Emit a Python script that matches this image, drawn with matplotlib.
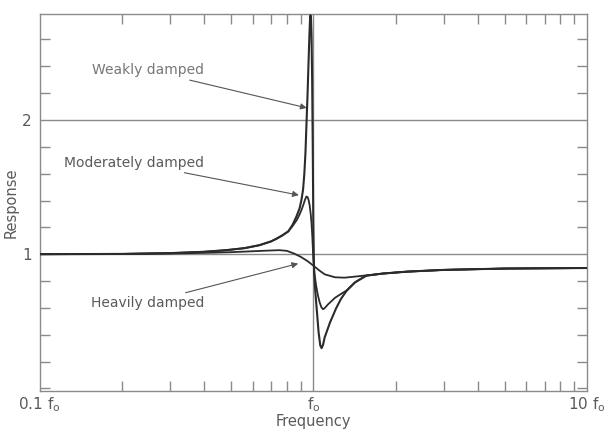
import numpy as np
import matplotlib
matplotlib.use("Agg")
import matplotlib.pyplot as plt
from matplotlib.ticker import FixedLocator, LogLocator, MultipleLocator, NullFormatter

# valeurs (f / f0, reponse)
weak_f = [0.10, 0.20, 0.30, 0.40, 0.48, 0.56, 0.635, 0.70, 0.733, 0.77, 0.81, 0.84, 0.867,
          0.89, 0.904, 0.917, 0.927, 0.936, 0.943, 0.952, 0.960, 0.967, 0.972, 0.976,
          0.980, 0.985, 0.990, 0.995, 1.000, 1.006, 1.015, 1.028, 1.045, 1.060, 1.072,
          1.085, 1.10, 1.15, 1.21, 1.26, 1.32, 1.42, 1.56, 1.8, 2.2, 3.0, 5.0, 10.0]
weak_r = [1.000, 1.002, 1.008, 1.018, 1.030, 1.045, 1.067, 1.095, 1.115, 1.140, 1.170, 1.220, 1.280,
          1.340, 1.400, 1.480, 1.600, 1.760, 1.950, 2.180, 2.420, 2.620, 2.740, 2.780,
          2.760, 2.620, 2.300, 1.800, 1.200, 0.880, 0.740, 0.600, 0.420, 0.320, 0.300,
          0.325, 0.380, 0.490, 0.595, 0.665, 0.725, 0.790, 0.840, 0.856, 0.870, 0.883, 0.893, 0.897]

mod_f = [0.10, 0.20, 0.30, 0.40, 0.48, 0.56, 0.635, 0.70, 0.733, 0.77, 0.81, 0.84, 0.87,
         0.89, 0.905, 0.92, 0.932, 0.943, 0.953, 0.962, 0.970, 0.978, 0.985, 0.992, 1.000,
         1.010, 1.025, 1.040, 1.055, 1.070, 1.085, 1.10, 1.13, 1.20, 1.26, 1.32, 1.42, 1.56,
         1.8, 2.2, 3.0, 5.0, 10.0]
mod_r = [1.000, 1.002, 1.008, 1.018, 1.030, 1.045, 1.067, 1.095, 1.115, 1.140, 1.170, 1.210, 1.255,
         1.295, 1.330, 1.370, 1.405, 1.430, 1.425, 1.400, 1.360, 1.300, 1.230, 1.120, 0.960,
         0.850, 0.760, 0.690, 0.640, 0.605, 0.590, 0.598, 0.625, 0.675, 0.703, 0.728, 0.790, 0.840,
         0.856, 0.870, 0.883, 0.893, 0.897]

heavy_f = [0.10, 0.20, 0.30, 0.40, 0.50, 0.65, 0.75, 0.80, 0.85, 0.90, 0.95, 1.00, 1.05,
           1.10, 1.20, 1.30, 1.45, 1.56, 1.8, 2.2, 3.0, 5.0, 10.0]
heavy_r = [1.000, 1.002, 1.005, 1.010, 1.015, 1.025, 1.030, 1.025, 1.005, 0.980, 0.950, 0.915, 0.880,
           0.850, 0.828, 0.825, 0.835, 0.842, 0.856, 0.870, 0.883, 0.893, 0.897]

x_tick_vals = [0.1, 1, 10]
x_tick_labels = [r"0.1 f$_{\rm o}$", r"f$_{\rm o}$", r"10 f$_{\rm o}$"]
y_tick_vals = [1, 2]

plt.rcParams["mathtext.default"] = "regular"
text_col = "#5a5a5a"
frame_col = "#8a8a8a"
curve_col = "#2b2b2b"

fig = plt.figure(figsize=(6.12, 4.36), dpi=100)
ax = fig.add_axes([0.065, 0.103, 0.894, 0.865])
ax.set_xscale("log")
ax.set_xlim(0.1, 10)
ax.set_ylim(-0.02, 2.79)

# lignes de repere
for yv in y_tick_vals:
    ax.axhline(yv, color=frame_col, lw=1.0, zorder=1)
ax.axvline(1.0, color=frame_col, lw=1.0, zorder=1)

ax.plot(heavy_f, heavy_r, color=curve_col, lw=1.3, zorder=3)
ax.plot(mod_f, mod_r, color=curve_col, lw=1.3, zorder=3)
ax.plot(weak_f, weak_r, color=curve_col, lw=1.5, zorder=4)

for sp in ax.spines.values():
    sp.set_color(frame_col)
    sp.set_linewidth(1.0)

ax.xaxis.set_major_locator(FixedLocator(x_tick_vals))
ax.set_xticklabels(x_tick_labels)
ax.xaxis.set_minor_locator(LogLocator(base=10, subs=np.arange(2, 10)))
ax.xaxis.set_minor_formatter(NullFormatter())
ax.set_yticks(y_tick_vals)
ax.yaxis.set_minor_locator(MultipleLocator(0.2))

ax.tick_params(which="major", length=0, labelsize=11, labelcolor=text_col, pad=6)
ax.tick_params(axis="x", which="major", pad=3)
ax.tick_params(which="minor", direction="in", length=7, width=1.0, color=frame_col,
               top=True, right=True)

ax.set_xlabel("Frequency", fontsize=10.5, color=text_col, labelpad=0)
ax.set_ylabel("Response", fontsize=10.5, color=text_col, labelpad=2)

arrow = dict(arrowstyle="-|>", color="#555555", lw=0.8, mutation_scale=9,
             shrinkA=0, shrinkB=0)
ax.annotate("Weakly damped", xy=(0.946, 2.09), xytext=(0.40, 2.37),
            ha="right", va="center", fontsize=10, color="#777777", arrowprops=arrow)
ax.annotate("Moderately damped", xy=(0.885, 1.44), xytext=(0.40, 1.68),
            ha="right", va="center", fontsize=10, color=text_col, arrowprops=arrow)
ax.annotate("Heavily damped", xy=(0.88, 0.93), xytext=(0.40, 0.64),
            ha="right", va="center", fontsize=10, color=text_col, arrowprops=arrow)

fig.savefig("out.png", dpi=100)
